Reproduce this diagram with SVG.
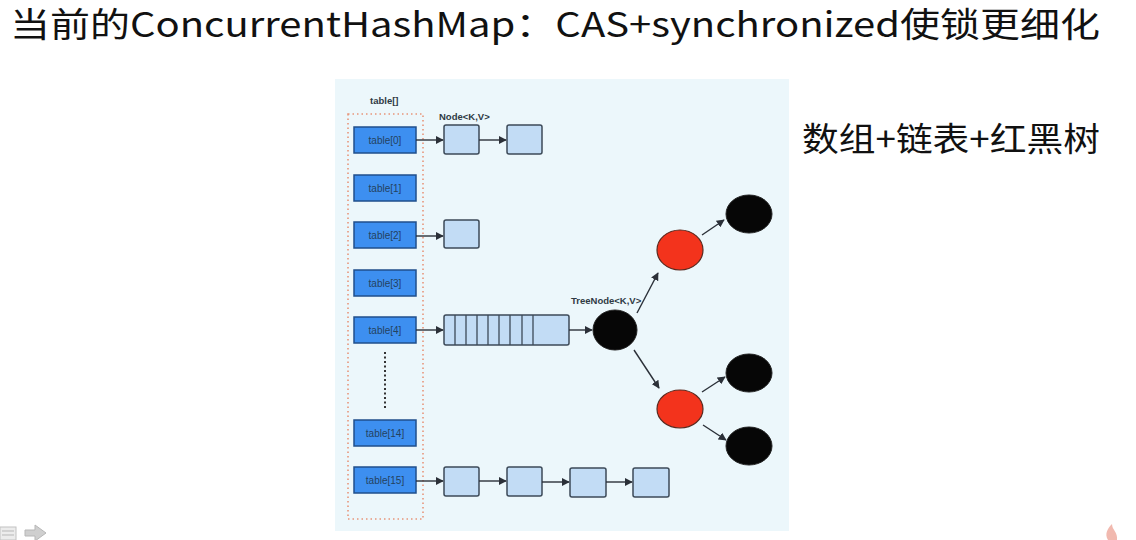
<svg xmlns="http://www.w3.org/2000/svg" width="1136" height="540" viewBox="0 0 1136 540">
<defs>
<marker id="ah" viewBox="0 0 10 10" refX="9" refY="5" markerWidth="8" markerHeight="8" markerUnits="userSpaceOnUse" orient="auto">
<path d="M0,0 L10,5 L0,10 z" fill="#2b3038"/>
</marker>
<style>
.title{font-family:"Noto Sans CJK SC","Liberation Sans",sans-serif;font-size:34px;fill:#111}
.side{font-family:"Noto Sans CJK SC",sans-serif;font-size:33px;fill:#111}
.tb{fill:#3d8ff0;stroke:#1f4f8c;stroke-width:1.5}
.tbt{font-family:"Liberation Sans",sans-serif;font-size:10px;fill:#24425f;text-anchor:middle}
.nd{fill:#c2dcf5;stroke:#3c4a58;stroke-width:1.5}
.lbl{font-family:"Liberation Sans",sans-serif;font-size:9.5px;font-weight:bold;fill:#2f3a44}
.blk{fill:#060606;stroke:#222;stroke-width:1}
.red{fill:#f3331c;stroke:#5a2a20;stroke-width:1.2}
.cn{stroke:#2b3038;stroke-width:1.4;fill:none;marker-end:url(#ah)}
</style>
</defs>
<rect width="1136" height="540" fill="#ffffff"/>
<rect x="335" y="79" width="454" height="452" fill="#ecf7fb"/>
<text class="title" x="10" y="37" textLength="1090" lengthAdjust="spacingAndGlyphs">当前的ConcurrentHashMap：CAS+synchronized使锁更细化</text>
<text class="side" x="802" y="151" textLength="298" lengthAdjust="spacingAndGlyphs">数组+链表+红黑树</text>

<g id="table-array">
<text class="lbl" x="370" y="104" font-size="10.5">table[]</text>
<rect x="348" y="114" width="75" height="405" fill="none" stroke="#e8957a" stroke-width="1.6" stroke-dasharray="1.5,3"/>
<line x1="385" y1="352" x2="385" y2="410" stroke="#333" stroke-width="2" stroke-dasharray="2,2.5"/>
</g>
<g id="table0"><rect class="tb" x="354" y="127" width="62" height="26"/><text class="tbt" x="385" y="143.5">table[0]</text></g>
<g id="table1"><rect class="tb" x="354" y="175" width="62" height="26"/><text class="tbt" x="385" y="191.5">table[1]</text></g>
<g id="table2"><rect class="tb" x="354" y="222" width="62" height="26"/><text class="tbt" x="385" y="238.5">table[2]</text></g>
<g id="table3"><rect class="tb" x="354" y="270" width="62" height="26"/><text class="tbt" x="385" y="286.5">table[3]</text></g>
<g id="table4"><rect class="tb" x="354" y="317" width="62" height="26"/><text class="tbt" x="385" y="333.5">table[4]</text></g>
<g id="table14"><rect class="tb" x="354" y="420" width="62" height="26"/><text class="tbt" x="385" y="436.5">table[14]</text></g>
<g id="table15"><rect class="tb" x="354" y="467" width="62" height="26"/><text class="tbt" x="385" y="483.5">table[15]</text></g>

<text class="lbl" x="439" y="120">Node&lt;K,V&gt;</text>
<g id="n0a"><rect class="nd" x="444" y="125" width="35" height="29" rx="2"/></g>
<g id="n0b"><rect class="nd" x="507" y="125" width="35" height="29" rx="2"/></g>
<g id="n2a"><rect class="nd" x="444" y="220" width="35" height="28" rx="2"/></g>
<g id="n15a"><rect class="nd" x="444" y="467" width="35" height="29" rx="2"/></g>
<g id="n15b"><rect class="nd" x="507" y="467" width="35" height="29" rx="2"/></g>
<g id="n15c"><rect class="nd" x="570" y="468" width="36" height="29" rx="2"/></g>
<g id="n15d"><rect class="nd" x="633" y="468" width="36" height="29" rx="2"/></g>

<g id="array4">
<rect class="nd" x="444" y="315" width="125" height="30" rx="2"/>
<path d="M455,315V345M466,315V345M477,315V345M488,315V345M499,315V345M510,315V345M522,315V345M533,315V345" stroke="#3c4a58" stroke-width="1.3"/>
</g>

<text class="lbl" x="571" y="304">TreeNode&lt;K,V&gt;</text>
<g id="root"><ellipse class="blk" cx="615" cy="330" rx="22" ry="20"/></g>
<g id="redTop"><ellipse class="red" cx="680" cy="250" rx="23" ry="20"/></g>
<g id="redBottom"><ellipse class="red" cx="680" cy="409" rx="23" ry="19"/></g>
<g id="blkTop"><ellipse class="blk" cx="749" cy="214" rx="23" ry="19"/></g>
<g id="blkMid"><ellipse class="blk" cx="749" cy="373" rx="23" ry="19"/></g>
<g id="blkBot"><ellipse class="blk" cx="749" cy="446" rx="23" ry="19"/></g>

<g id="connectors">
<line class="cn" x1="416" y1="140" x2="443" y2="140"/>
<line class="cn" x1="479" y1="140" x2="506" y2="140"/>
<line class="cn" x1="416" y1="236" x2="443" y2="236"/>
<line class="cn" x1="416" y1="330" x2="443" y2="330"/>
<line class="cn" x1="569" y1="330" x2="592" y2="330"/>
<line class="cn" x1="416" y1="481" x2="443" y2="481"/>
<line class="cn" x1="479" y1="481" x2="506" y2="481"/>
<line class="cn" x1="542" y1="482" x2="569" y2="482"/>
<line class="cn" x1="606" y1="482" x2="632" y2="482"/>
<line class="cn" x1="637" y1="313" x2="658" y2="273"/>
<line class="cn" x1="634" y1="350" x2="659" y2="388"/>
<line class="cn" x1="702" y1="235" x2="724" y2="220"/>
<line class="cn" x1="702" y1="392" x2="725" y2="377"/>
<line class="cn" x1="703" y1="425" x2="726" y2="440"/>
</g>

<g id="nav-icons" opacity="0.7">
<rect x="0" y="527" width="16" height="13" fill="#e4e4e4" stroke="#aaa"/>
<path d="M2,531H14M2,535H14" stroke="#999"/>
<path d="M25,530H35V525L46,533L35,541V536H25Z" fill="#bbb" stroke="#999"/>
</g>
<g id="logo" opacity="0.6">
<path d="M1108,540C1104,534 1108,528 1112,524C1112,530 1118,532 1117,540Z" fill="#e88a7a"/>
</g>
</svg>
